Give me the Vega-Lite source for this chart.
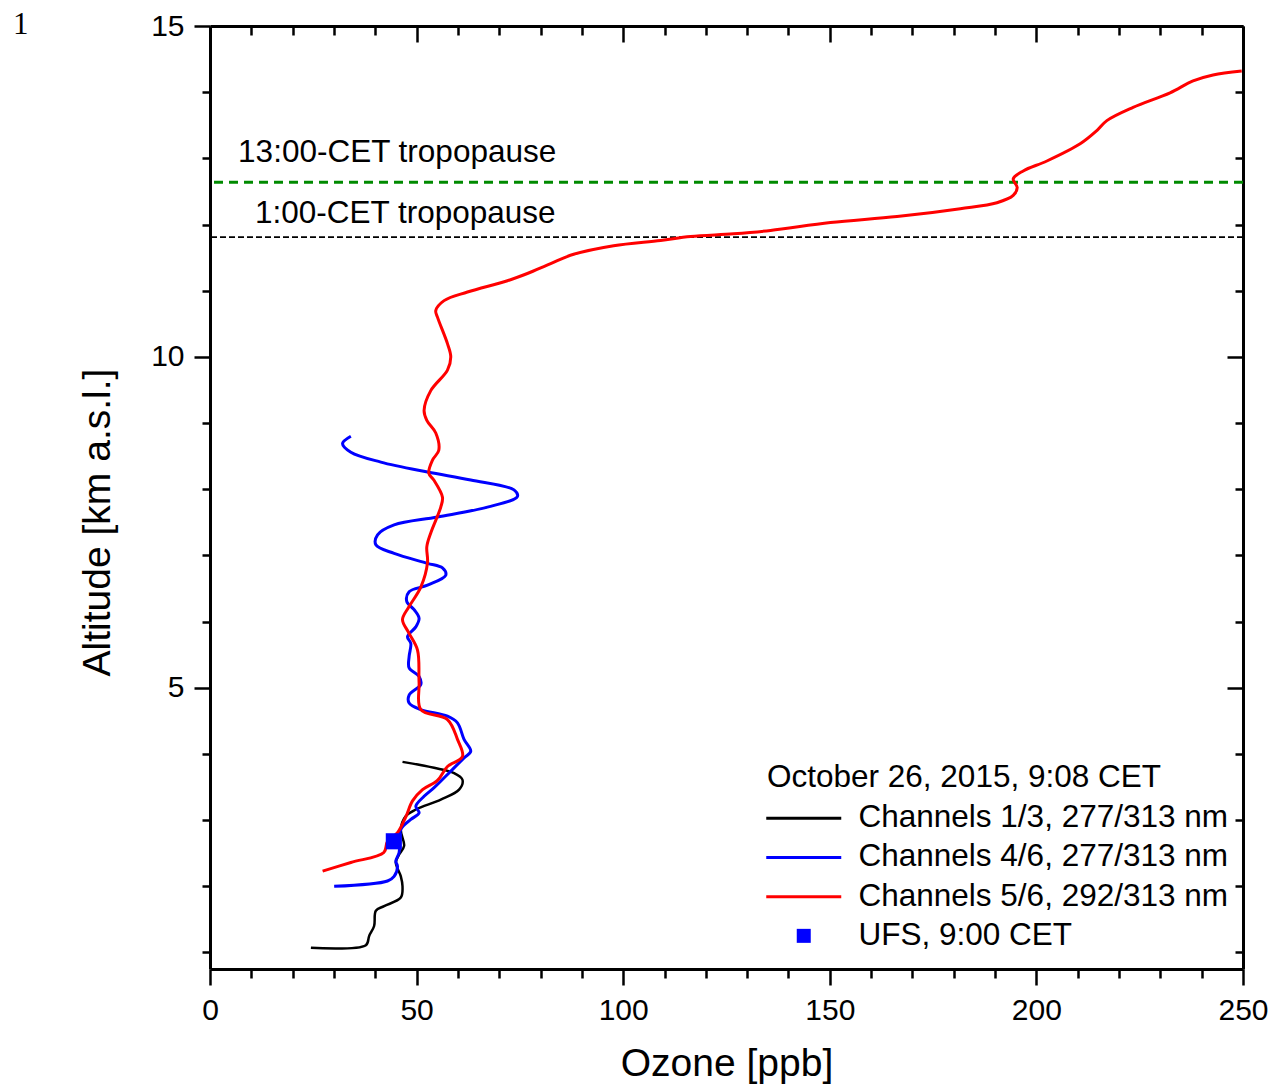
{
  "$schema": "https://vega.github.io/schema/vega-lite/v6.json",
  "width": 1033,
  "height": 943,
  "autosize": {"type": "none"},
  "padding": {"left": 210, "top": 26, "right": 38, "bottom": 119},
  "background": "white",
  "title": {"text": "1", "anchor": "start", "frame": "group", "dx": -197, "dy": 45, "offset": -9, "baseline": "alphabetic", "font": "Liberation Serif", "fontSize": 31, "fontWeight": "normal", "color": "black"},
  "config": {
    "view": {"stroke": null},
    "axis": {"domainColor": "black", "domainWidth": 3, "tickColor": "black", "tickWidth": 2.5, "labelColor": "black", "titleColor": "black", "labelFont": "Liberation Sans", "titleFont": "Liberation Sans", "titleFontWeight": "normal", "grid": false, "labelFlush": false, "labelOverlap": false}
  },
  "datasets": {
    "profiles": [
      {"series": "Channels 1/3, 277/313 nm", "ozone": 24.42, "alt": 1.07},
      {"series": "Channels 1/3, 277/313 nm", "ozone": 37.72, "alt": 1.11},
      {"series": "Channels 1/3, 277/313 nm", "ozone": 38.52, "alt": 1.25},
      {"series": "Channels 1/3, 277/313 nm", "ozone": 39.72, "alt": 1.40},
      {"series": "Channels 1/3, 277/313 nm", "ozone": 40.14, "alt": 1.63},
      {"series": "Channels 1/3, 277/313 nm", "ozone": 42.14, "alt": 1.70},
      {"series": "Channels 1/3, 277/313 nm", "ozone": 46.18, "alt": 1.83},
      {"series": "Channels 1/3, 277/313 nm", "ozone": 46.59, "alt": 2.00},
      {"series": "Channels 1/3, 277/313 nm", "ozone": 46.18, "alt": 2.15},
      {"series": "Channels 1/3, 277/313 nm", "ozone": 44.97, "alt": 2.36},
      {"series": "Channels 1/3, 277/313 nm", "ozone": 45.77, "alt": 2.48},
      {"series": "Channels 1/3, 277/313 nm", "ozone": 46.98, "alt": 2.61},
      {"series": "Channels 1/3, 277/313 nm", "ozone": 46.18, "alt": 2.86},
      {"series": "Channels 1/3, 277/313 nm", "ozone": 47.39, "alt": 3.06},
      {"series": "Channels 1/3, 277/313 nm", "ozone": 49.81, "alt": 3.16},
      {"series": "Channels 1/3, 277/313 nm", "ozone": 55.85, "alt": 3.31},
      {"series": "Channels 1/3, 277/313 nm", "ozone": 60.28, "alt": 3.46},
      {"series": "Channels 1/3, 277/313 nm", "ozone": 61.10, "alt": 3.61},
      {"series": "Channels 1/3, 277/313 nm", "ozone": 59.07, "alt": 3.71},
      {"series": "Channels 1/3, 277/313 nm", "ozone": 54.23, "alt": 3.79},
      {"series": "Channels 1/3, 277/313 nm", "ozone": 46.59, "alt": 3.88},

      {"series": "Channels 4/6, 277/313 nm", "ozone": 30.05, "alt": 2.00},
      {"series": "Channels 4/6, 277/313 nm", "ozone": 42.96, "alt": 2.08},
      {"series": "Channels 4/6, 277/313 nm", "ozone": 44.56, "alt": 2.15},
      {"series": "Channels 4/6, 277/313 nm", "ozone": 45.38, "alt": 2.30},
      {"series": "Channels 4/6, 277/313 nm", "ozone": 44.97, "alt": 2.38},
      {"series": "Channels 4/6, 277/313 nm", "ozone": 45.77, "alt": 2.51},
      {"series": "Channels 4/6, 277/313 nm", "ozone": 46.18, "alt": 2.86},
      {"series": "Channels 4/6, 277/313 nm", "ozone": 48.60, "alt": 3.01},
      {"series": "Channels 4/6, 277/313 nm", "ozone": 50.60, "alt": 3.11},
      {"series": "Channels 4/6, 277/313 nm", "ozone": 49.81, "alt": 3.21},
      {"series": "Channels 4/6, 277/313 nm", "ozone": 51.81, "alt": 3.36},
      {"series": "Channels 4/6, 277/313 nm", "ozone": 54.23, "alt": 3.49},
      {"series": "Channels 4/6, 277/313 nm", "ozone": 57.47, "alt": 3.69},
      {"series": "Channels 4/6, 277/313 nm", "ozone": 61.48, "alt": 3.94},
      {"series": "Channels 4/6, 277/313 nm", "ozone": 63.10, "alt": 4.04},
      {"series": "Channels 4/6, 277/313 nm", "ozone": 61.48, "alt": 4.22},
      {"series": "Channels 4/6, 277/313 nm", "ozone": 59.89, "alt": 4.47},
      {"series": "Channels 4/6, 277/313 nm", "ozone": 57.47, "alt": 4.57},
      {"series": "Channels 4/6, 277/313 nm", "ozone": 51.02, "alt": 4.67},
      {"series": "Channels 4/6, 277/313 nm", "ozone": 48.19, "alt": 4.77},
      {"series": "Channels 4/6, 277/313 nm", "ozone": 48.19, "alt": 4.89},
      {"series": "Channels 4/6, 277/313 nm", "ozone": 51.02, "alt": 5.05},
      {"series": "Channels 4/6, 277/313 nm", "ozone": 50.60, "alt": 5.17},
      {"series": "Channels 4/6, 277/313 nm", "ozone": 48.19, "alt": 5.30},
      {"series": "Channels 4/6, 277/313 nm", "ozone": 48.19, "alt": 5.47},
      {"series": "Channels 4/6, 277/313 nm", "ozone": 48.60, "alt": 5.67},
      {"series": "Channels 4/6, 277/313 nm", "ozone": 47.80, "alt": 5.77},
      {"series": "Channels 4/6, 277/313 nm", "ozone": 49.81, "alt": 5.92},
      {"series": "Channels 4/6, 277/313 nm", "ozone": 50.60, "alt": 6.05},
      {"series": "Channels 4/6, 277/313 nm", "ozone": 49.40, "alt": 6.18},
      {"series": "Channels 4/6, 277/313 nm", "ozone": 47.63, "alt": 6.30},
      {"series": "Channels 4/6, 277/313 nm", "ozone": 48.19, "alt": 6.45},
      {"series": "Channels 4/6, 277/313 nm", "ozone": 52.64, "alt": 6.55},
      {"series": "Channels 4/6, 277/313 nm", "ozone": 57.06, "alt": 6.70},
      {"series": "Channels 4/6, 277/313 nm", "ozone": 56.26, "alt": 6.81},
      {"series": "Channels 4/6, 277/313 nm", "ozone": 52.64, "alt": 6.88},
      {"series": "Channels 4/6, 277/313 nm", "ozone": 44.56, "alt": 7.03},
      {"series": "Channels 4/6, 277/313 nm", "ozone": 40.14, "alt": 7.16},
      {"series": "Channels 4/6, 277/313 nm", "ozone": 40.55, "alt": 7.31},
      {"series": "Channels 4/6, 277/313 nm", "ozone": 44.56, "alt": 7.46},
      {"series": "Channels 4/6, 277/313 nm", "ozone": 55.05, "alt": 7.58},
      {"series": "Channels 4/6, 277/313 nm", "ozone": 67.14, "alt": 7.73},
      {"series": "Channels 4/6, 277/313 nm", "ozone": 74.40, "alt": 7.89},
      {"series": "Channels 4/6, 277/313 nm", "ozone": 73.57, "alt": 7.99},
      {"series": "Channels 4/6, 277/313 nm", "ozone": 63.10, "alt": 8.14},
      {"series": "Channels 4/6, 277/313 nm", "ozone": 52.64, "alt": 8.26},
      {"series": "Channels 4/6, 277/313 nm", "ozone": 41.34, "alt": 8.41},
      {"series": "Channels 4/6, 277/313 nm", "ozone": 34.09, "alt": 8.56},
      {"series": "Channels 4/6, 277/313 nm", "ozone": 32.08, "alt": 8.69},
      {"series": "Channels 4/6, 277/313 nm", "ozone": 34.09, "alt": 8.80},

      {"series": "Channels 5/6, 292/313 nm", "ozone": 27.25, "alt": 2.23},
      {"series": "Channels 5/6, 292/313 nm", "ozone": 34.09, "alt": 2.36},
      {"series": "Channels 5/6, 292/313 nm", "ozone": 42.07, "alt": 2.51},
      {"series": "Channels 5/6, 292/313 nm", "ozone": 42.96, "alt": 2.68},
      {"series": "Channels 5/6, 292/313 nm", "ozone": 45.38, "alt": 2.81},
      {"series": "Channels 5/6, 292/313 nm", "ozone": 47.39, "alt": 3.05},
      {"series": "Channels 5/6, 292/313 nm", "ozone": 49.01, "alt": 3.29},
      {"series": "Channels 5/6, 292/313 nm", "ozone": 51.43, "alt": 3.46},
      {"series": "Channels 5/6, 292/313 nm", "ozone": 55.05, "alt": 3.60},
      {"series": "Channels 5/6, 292/313 nm", "ozone": 57.47, "alt": 3.81},
      {"series": "Channels 5/6, 292/313 nm", "ozone": 61.10, "alt": 3.96},
      {"series": "Channels 5/6, 292/313 nm", "ozone": 59.89, "alt": 4.22},
      {"series": "Channels 5/6, 292/313 nm", "ozone": 57.47, "alt": 4.52},
      {"series": "Channels 5/6, 292/313 nm", "ozone": 51.02, "alt": 4.67},
      {"series": "Channels 5/6, 292/313 nm", "ozone": 50.60, "alt": 5.08},
      {"series": "Channels 5/6, 292/313 nm", "ozone": 50.22, "alt": 5.57},
      {"series": "Channels 5/6, 292/313 nm", "ozone": 48.11, "alt": 5.83},
      {"series": "Channels 5/6, 292/313 nm", "ozone": 46.59, "alt": 6.03},
      {"series": "Channels 5/6, 292/313 nm", "ozone": 48.11, "alt": 6.22},
      {"series": "Channels 5/6, 292/313 nm", "ozone": 51.02, "alt": 6.52},
      {"series": "Channels 5/6, 292/313 nm", "ozone": 52.64, "alt": 6.89},
      {"series": "Channels 5/6, 292/313 nm", "ozone": 52.47, "alt": 7.13},
      {"series": "Channels 5/6, 292/313 nm", "ozone": 53.43, "alt": 7.34},
      {"series": "Channels 5/6, 292/313 nm", "ozone": 55.85, "alt": 7.73},
      {"series": "Channels 5/6, 292/313 nm", "ozone": 56.26, "alt": 7.88},
      {"series": "Channels 5/6, 292/313 nm", "ozone": 54.16, "alt": 8.14},
      {"series": "Channels 5/6, 292/313 nm", "ozone": 52.95, "alt": 8.24},
      {"series": "Channels 5/6, 292/313 nm", "ozone": 53.85, "alt": 8.44},
      {"series": "Channels 5/6, 292/313 nm", "ozone": 55.37, "alt": 8.59},
      {"series": "Channels 5/6, 292/313 nm", "ozone": 54.64, "alt": 8.85},
      {"series": "Channels 5/6, 292/313 nm", "ozone": 52.47, "alt": 9.04},
      {"series": "Channels 5/6, 292/313 nm", "ozone": 51.81, "alt": 9.19},
      {"series": "Channels 5/6, 292/313 nm", "ozone": 53.43, "alt": 9.49},
      {"series": "Channels 5/6, 292/313 nm", "ozone": 57.47, "alt": 9.80},
      {"series": "Channels 5/6, 292/313 nm", "ozone": 58.27, "alt": 10.00},
      {"series": "Channels 5/6, 292/313 nm", "ozone": 57.47, "alt": 10.20},
      {"series": "Channels 5/6, 292/313 nm", "ozone": 55.05, "alt": 10.60},
      {"series": "Channels 5/6, 292/313 nm", "ozone": 54.64, "alt": 10.70},
      {"series": "Channels 5/6, 292/313 nm", "ozone": 56.65, "alt": 10.85},
      {"series": "Channels 5/6, 292/313 nm", "ozone": 62.31, "alt": 10.98},
      {"series": "Channels 5/6, 292/313 nm", "ozone": 71.98, "alt": 11.15},
      {"series": "Channels 5/6, 292/313 nm", "ozone": 76.81, "alt": 11.26},
      {"series": "Channels 5/6, 292/313 nm", "ozone": 82.45, "alt": 11.41},
      {"series": "Channels 5/6, 292/313 nm", "ozone": 88.01, "alt": 11.55},
      {"series": "Channels 5/6, 292/313 nm", "ozone": 97.68, "alt": 11.68},
      {"series": "Channels 5/6, 292/313 nm", "ozone": 109.04, "alt": 11.76},
      {"series": "Channels 5/6, 292/313 nm", "ozone": 116.30, "alt": 11.82},
      {"series": "Channels 5/6, 292/313 nm", "ozone": 126.69, "alt": 11.86},
      {"series": "Channels 5/6, 292/313 nm", "ozone": 135.64, "alt": 11.91},
      {"series": "Channels 5/6, 292/313 nm", "ozone": 150.15, "alt": 12.03},
      {"series": "Channels 5/6, 292/313 nm", "ozone": 166.27, "alt": 12.12},
      {"series": "Channels 5/6, 292/313 nm", "ozone": 181.58, "alt": 12.24},
      {"series": "Channels 5/6, 292/313 nm", "ozone": 190.45, "alt": 12.33},
      {"series": "Channels 5/6, 292/313 nm", "ozone": 194.39, "alt": 12.44},
      {"series": "Channels 5/6, 292/313 nm", "ozone": 195.36, "alt": 12.56},
      {"series": "Channels 5/6, 292/313 nm", "ozone": 194.39, "alt": 12.69},
      {"series": "Channels 5/6, 292/313 nm", "ozone": 196.81, "alt": 12.81},
      {"series": "Channels 5/6, 292/313 nm", "ozone": 202.54, "alt": 12.96},
      {"series": "Channels 5/6, 292/313 nm", "ozone": 210.59, "alt": 13.22},
      {"series": "Channels 5/6, 292/313 nm", "ozone": 214.63, "alt": 13.42},
      {"series": "Channels 5/6, 292/313 nm", "ozone": 217.05, "alt": 13.57},
      {"series": "Channels 5/6, 292/313 nm", "ozone": 223.40, "alt": 13.77},
      {"series": "Channels 5/6, 292/313 nm", "ozone": 232.35, "alt": 13.99},
      {"series": "Channels 5/6, 292/313 nm", "ozone": 237.91, "alt": 14.17},
      {"series": "Channels 5/6, 292/313 nm", "ozone": 242.75, "alt": 14.26},
      {"series": "Channels 5/6, 292/313 nm", "ozone": 249.69, "alt": 14.32},

      {"series": "UFS, 9:00 CET", "ozone": 44.49, "alt": 2.68}
    ],
    "tropopause": [
      {"label": "13:00-CET tropopause", "alt": 12.64, "labelOzone": 6.8, "labelAlt": 12.94, "kind": "13"},
      {"label": "1:00-CET tropopause", "alt": 11.81, "labelOzone": 10.9, "labelAlt": 12.03, "kind": "1"}
    ]
  },
  "resolve": {"axis": {"x": "independent", "y": "independent"}},
  "layer": [
    {
      "data": {"name": "tropopause"},
      "transform": [{"filter": "datum.kind === '13'"}],
      "mark": {"type": "rule", "color": "#008a00", "strokeWidth": 3, "strokeDash": [9, 6]},
      "encoding": {
        "y": {"field": "alt", "type": "quantitative", "scale": {"domain": [0.75, 15], "nice": false, "zero": false}, "axis": null}
      }
    },
    {
      "data": {"name": "tropopause"},
      "transform": [{"filter": "datum.kind === '1'"}],
      "mark": {"type": "rule", "color": "black", "strokeWidth": 1.8, "strokeDash": [6, 3]},
      "encoding": {
        "y": {"field": "alt", "type": "quantitative", "axis": null}
      }
    },
    {
      "data": {"name": "tropopause"},
      "mark": {"type": "text", "align": "left", "baseline": "alphabetic", "font": "Liberation Sans", "fontSize": 31.5, "color": "black"},
      "encoding": {
        "x": {"field": "labelOzone", "type": "quantitative", "axis": null},
        "y": {"field": "labelAlt", "type": "quantitative", "axis": null},
        "text": {"field": "label"}
      }
    },
    {
      "data": {"name": "profiles"},
      "transform": [{"filter": "datum.series === 'Channels 1/3, 277/313 nm'"}],
      "mark": {"type": "line", "strokeWidth": 2.5, "interpolate": "catmull-rom"},
      "encoding": {
        "x": {"field": "ozone", "type": "quantitative", "scale": {"domain": [0, 250], "nice": false, "zero": false},
              "axis": {"orient": "top", "values": [0, 50, 100, 150, 200, 250], "tickSize": -16, "labels": false, "title": null}},
        "y": {"field": "alt", "type": "quantitative",
              "axis": {"orient": "right", "values": [5, 10, 15], "tickSize": -16, "labels": false, "title": null}},
        "order": {"field": "alt", "type": "quantitative"},
        "color": {"field": "series", "type": "nominal",
          "scale": {"domain": ["Channels 1/3, 277/313 nm", "Channels 4/6, 277/313 nm", "Channels 5/6, 292/313 nm", "UFS, 9:00 CET"],
                    "range": ["#000000", "#0000ff", "#ff0000", "#0000ff"]},
          "legend": {
            "orient": "none", "legendX": 557, "legendY": 736,
            "title": "October 26, 2015, 9:08 CET", "titleLimit": 800,
            "titleFont": "Liberation Sans", "titleFontSize": 31.5, "titleFontWeight": "normal", "titleColor": "black", "titlePadding": 9,
            "labelFont": "Liberation Sans", "labelFontSize": 31.5, "labelColor": "black", "labelLimit": 800,
            "symbolSize": 225, "symbolStrokeWidth": 3, "symbolOffset": 21, "labelOffset": 39, "rowPadding": 6.2,
            "symbolType": "stroke",
            "encode": {
              "symbols": {"update": {
                "shape": {"signal": "datum.value === 'UFS, 9:00 CET' ? 'square' : 'M-5,0H5'"},
                "size": {"signal": "datum.value === 'UFS, 9:00 CET' ? 196 : 225"},
                "fill": {"signal": "datum.value === 'UFS, 9:00 CET' ? '#0000ff' : 'transparent'"},
                "strokeWidth": {"signal": "datum.value === 'UFS, 9:00 CET' ? 0 : 3"}
              }}
            }
          }
        }
      }
    },
    {
      "data": {"name": "profiles"},
      "transform": [{"filter": "datum.series === 'Channels 4/6, 277/313 nm'"}],
      "mark": {"type": "line", "strokeWidth": 3, "interpolate": "catmull-rom"},
      "encoding": {
        "x": {"field": "ozone", "type": "quantitative",
              "axis": {"orient": "bottom", "values": [10, 20, 30, 40, 60, 70, 80, 90, 110, 120, 130, 140, 160, 170, 180, 190, 210, 220, 230, 240], "tickSize": 9, "labels": false, "domain": false, "title": null}},
        "y": {"field": "alt", "type": "quantitative",
              "axis": {"orient": "left", "values": [1, 2, 3, 4, 6, 7, 8, 9, 11, 12, 13, 14], "tickSize": 8, "labels": false, "domain": false, "title": null}},
        "order": {"field": "alt", "type": "quantitative"},
        "color": {"field": "series", "type": "nominal"}
      }
    },
    {
      "data": {"name": "profiles"},
      "transform": [{"filter": "datum.series === 'Channels 5/6, 292/313 nm'"}],
      "mark": {"type": "line", "strokeWidth": 3, "interpolate": "catmull-rom"},
      "encoding": {
        "x": {"field": "ozone", "type": "quantitative",
              "axis": {"orient": "bottom", "values": [0, 50, 100, 150, 200, 250], "tickSize": 16, "labelFontSize": 30, "labelPadding": 10,
                       "title": "Ozone [ppb]", "titleFontSize": 39, "titlePadding": 19}},
        "y": {"field": "alt", "type": "quantitative",
              "axis": {"orient": "left", "values": [5, 10, 15], "tickSize": 16, "labelFontSize": 30, "labelPadding": 10,
                       "title": "Altitude [km a.s.l.]", "titleFontSize": 39, "titlePadding": 33, "titleY": 496}},
        "order": {"field": "alt", "type": "quantitative"},
        "color": {"field": "series", "type": "nominal"}
      }
    },
    {
      "data": {"name": "profiles"},
      "transform": [{"filter": "datum.series === 'UFS, 9:00 CET'"}],
      "mark": {"type": "point", "shape": "square", "filled": true, "size": 260, "opacity": 1},
      "encoding": {
        "x": {"field": "ozone", "type": "quantitative",
              "axis": {"orient": "top", "values": [10, 20, 30, 40, 60, 70, 80, 90, 110, 120, 130, 140, 160, 170, 180, 190, 210, 220, 230, 240], "tickSize": -9, "labels": false, "domain": false, "title": null}},
        "y": {"field": "alt", "type": "quantitative",
              "axis": {"orient": "right", "values": [1, 2, 3, 4, 6, 7, 8, 9, 11, 12, 13, 14], "tickSize": -8, "labels": false, "domain": false, "title": null}},
        "color": {"field": "series", "type": "nominal"}
      }
    }
  ]
}
